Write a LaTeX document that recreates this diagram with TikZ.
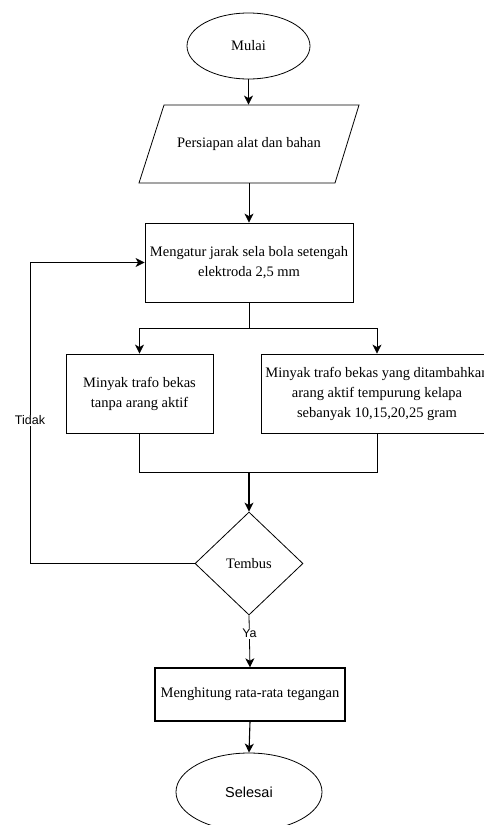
\documentclass[tikz,border=0pt]{standalone}
\usepackage{fontspec}
\setmainfont{Liberation Serif}
\newfontfamily\lblfont{Liberation Sans}
\usetikzlibrary{shapes.geometric,arrows.meta}
\begin{document}
\begin{tikzpicture}[x=1pt,y=-1pt,
  line width=0.8pt,
  serif/.style={font=\fontsize{14.5}{20}\selectfont, align=center},
  term/.style={draw, ellipse, inner sep=0pt, serif},
  procbox/.style={draw, rectangle, inner sep=0pt, serif},
  decide/.style={draw, diamond, inner sep=0pt, serif},
  arr/.style={-{Stealth[length=9pt,width=9pt,inset=2.5pt]}},
  lbl/.style={fill=white, inner sep=1pt, font=\lblfont\fontsize{12.5}{14}\selectfont}
]
\useasboundingbox (0,0) rectangle (484,825);
\clip (0,0) rectangle (484,825);

\node[term, minimum width=123pt, minimum height=66pt] (mulai) at (248.5,46) {Mulai};

% parallelogram
\node[inner sep=0pt, minimum width=195pt, minimum height=78pt, serif] (persiapan) at (249,144) {Persiapan alat dan bahan};
\draw (164,105) -- (359,105) -- (335,183) -- (139,183) -- cycle;

\node[procbox, minimum width=208pt, minimum height=79pt] (atur) at (249,262.5) {Mengatur jarak sela bola setengah\\elektroda 2,5 mm};

\node[procbox, minimum width=147pt, minimum height=79pt] (tanpa) at (139.5,393.5) {Minyak trafo bekas\\tanpa arang aktif};

\node[procbox, minimum width=232pt, minimum height=79pt] (tambah) at (377,393.5) {Minyak trafo bekas yang ditambahkan\\arang aktif tempurung kelapa\\sebanyak 10,15,20,25 gram};

\node[decide, minimum width=108pt, minimum height=103pt] (tembus) at (249,563.5) {Tembus};

\node[procbox, line width=1.4pt, minimum width=190pt, minimum height=53pt] (hitung) at (250,694.5) {Menghitung rata-rata tegangan};

\node[term, minimum width=146pt, minimum height=78pt, font=\lblfont\fontsize{14.5}{16}\selectfont] (selesai) at (249,792) {Selesai};

\coordinate (split) at (249,328);
\coordinate (join) at (249,472);
\coordinate (loopl) at (30,563.5);

\draw[arr] (mulai.south) -- (mulai.south |- persiapan.north);
\draw[arr] (persiapan.south) -- (atur.north);
\draw (atur.south) -- (split);
\draw[arr] (split) -| (tanpa.north);
\draw[arr] (split) -| (tambah.north);
\draw (tanpa.south) |- (join);
\draw (tambah.south) |- (join);
\draw[arr, line width=1.1pt] (join) -- (tembus.north);
\draw[arr] (tembus.west) -- (loopl) |- (atur.west) node[lbl, pos=0.2375] {Tidak};
\draw[arr] (tembus.south) -- (hitung.north) node[lbl, midway, yshift=8pt] {Ya};
\draw[arr, line width=1.1pt] (hitung.south) -- (selesai.north);
\end{tikzpicture}
\end{document}
